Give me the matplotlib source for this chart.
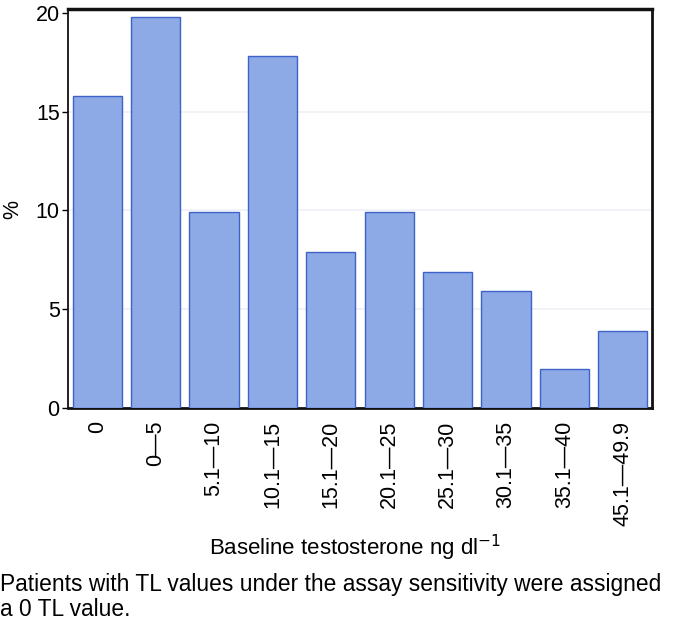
import matplotlib
matplotlib.use("Agg")
import matplotlib.pyplot as plt

# bin labels (ng/dl) and share of patients (%)
categories = ["0", "0\u20145", "5.1\u201410", "10.1\u201415", "15.1\u201420",
              "20.1\u201425", "25.1\u201430", "30.1\u201435", "35.1\u201440", "45.1\u201449.9"]
percent = [15.8, 19.8, 9.9, 17.8, 7.9, 9.9, 6.9, 5.9, 1.95, 3.9]
y_ticks = [0, 5, 10, 15, 20]

plt.rcParams['font.family'] = ['Liberation Sans', 'DejaVu Sans']

fig = plt.figure(figsize=(6.74, 6.30), dpi=100)
ax = fig.add_axes([68 / 674, 1 - 408 / 630, (652 - 68) / 674, 399 / 630])

x = list(range(len(categories)))
ax.bar(x, percent, width=0.84, color='#8DA9E6', edgecolor='#3F62C8',
       linewidth=1.0, zorder=3)

ax.set_xlim(-0.5, len(categories) - 0.5)
ax.set_ylim(0, 20.2)
ax.set_yticks(y_ticks)
ax.set_xticks(x)
ax.set_xticklabels(categories, rotation=90, fontsize=15.5)
ax.tick_params(axis='x', length=0, pad=9)
ax.tick_params(axis='y', length=4, width=1, labelsize=15.5, pad=2, direction='out')

for v in y_ticks[1:-1]:
    ax.axhline(v, color='#eef0f7', linewidth=1.2, zorder=1)

for side, lw in [('top', 2.5), ('right', 2.0), ('bottom', 2.0), ('left', 1.3)]:
    ax.spines[side].set_linewidth(lw)
    ax.spines[side].set_color('#111111')

# y label placed by hand so it stays inside the canvas
fig.text(13 / 674, 1 - 210 / 630, '%', rotation=90, ha='center', va='center',
         fontsize=15.5)
fig.text(0.527, 1 - 548 / 630, 'Baseline testosterone ng dl$^{\u22121}$',
         ha='center', va='center', fontsize=16)
fig.text(0.0, 1 - 585 / 630,
         'Patients with TL values under the assay sensitivity were assigned',
         ha='left', va='center', fontsize=16.4)
fig.text(0.0, 1 - 609 / 630, 'a 0 TL value.', ha='left', va='center', fontsize=16.4)

fig.savefig('out.png', dpi=100, facecolor='white')
